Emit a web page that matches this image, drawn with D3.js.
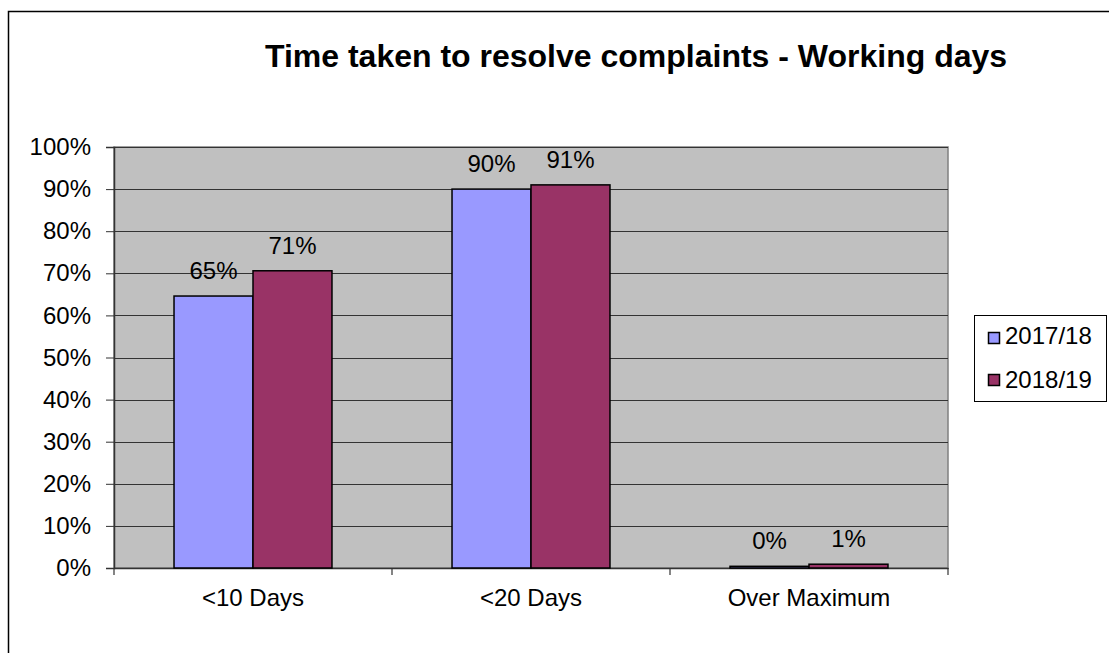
<!DOCTYPE html>
<html>
<head>
<meta charset="utf-8">
<script src="https://cdn.jsdelivr.net/npm/d3@7"></script>
<style>
  body { margin: 0; background: #fff; }
  text { font-family: "Liberation Sans", Arial, sans-serif; fill: #000; }
</style>
</head>
<body>
<div id="chart"></div>
<script>
// Chart data
const categories = ["<10 Days", "<20 Days", "Over Maximum"];
const seriesNames = ["2017/18", "2018/19"];
const values2017 = [0.646, 0.90, 0.004];
const values2018 = [0.706, 0.91, 0.009];
const yTicks = [0, 0.1, 0.2, 0.3, 0.4, 0.5, 0.6, 0.7, 0.8, 0.9, 1.0];
const colors = ["#9999ff", "#993366"];

const W = 1109, H = 653;
const plot = { left: 114, top: 147, right: 948, bottom: 568 };
const labelSize = "24px";

const svg = d3.select("#chart").append("svg")
  .attr("width", W).attr("height", H);

// outer chart border (runs off the bottom/right edge)
svg.append("rect")
  .attr("x", 8.5).attr("y", 11.5)
  .attr("width", W + 10).attr("height", H + 10)
  .attr("fill", "#fff").attr("stroke", "#000").attr("stroke-width", 1.5);

// title
svg.append("text")
  .attr("x", 636).attr("y", 67)
  .attr("text-anchor", "middle")
  .style("font-size", "32px").style("font-weight", "bold")
  .text("Time taken to resolve complaints - Working days");

const x = d3.scaleBand().domain(categories)
  .range([plot.left, plot.right]).paddingInner(0).paddingOuter(0);
const y = d3.scaleLinear().domain([0, 1]).range([plot.bottom, plot.top]);

// plot background
svg.append("rect")
  .attr("x", plot.left).attr("y", plot.top)
  .attr("width", plot.right - plot.left).attr("height", plot.bottom - plot.top)
  .attr("fill", "#c0c0c0").attr("stroke", "#808080").attr("stroke-width", 1.5);

// gridlines
svg.append("g").selectAll("line")
  .data(yTicks.filter((t) => t > 0))
  .enter().append("line")
  .attr("x1", plot.left).attr("x2", plot.right)
  .attr("y1", (d) => Math.round(y(d)) + 0.5).attr("y2", (d) => Math.round(y(d)) + 0.5)
  .attr("stroke", "#333").attr("stroke-width", 1.2);

// y axis
const yAxis = svg.append("g")
  .attr("transform", `translate(${plot.left},0)`)
  .call(d3.axisLeft(y).tickValues(yTicks).tickFormat(d3.format(".0%")).tickSize(8).tickPadding(15));
yAxis.select(".domain").attr("stroke", "#333").attr("stroke-width", 1.5);
yAxis.selectAll(".tick line").attr("stroke", "#333");
yAxis.selectAll("text").style("font-size", labelSize)
  .style("font-family", '"Liberation Sans", Arial, sans-serif').attr("fill", "#000");

// x axis
const xAxis = svg.append("g")
  .attr("transform", `translate(0,${plot.bottom})`)
  .call(d3.axisBottom(x).tickSize(0).tickPadding(21));
xAxis.select(".domain").attr("stroke", "#333").attr("stroke-width", 1.5);
xAxis.selectAll("text").style("font-size", labelSize)
  .style("font-family", '"Liberation Sans", Arial, sans-serif').attr("fill", "#000");
// category boundary ticks
xAxis.selectAll(".bound")
  .data(d3.range(categories.length + 1))
  .enter().append("line")
  .attr("x1", (i) => plot.left + i * x.bandwidth()).attr("x2", (i) => plot.left + i * x.bandwidth())
  .attr("y1", 0).attr("y2", 7)
  .attr("stroke", "#333").attr("stroke-width", 1.2);

// bars
const sub = d3.scaleBand().domain(seriesNames)
  .range([0, x.bandwidth()]).paddingInner(0).paddingOuter(0.76);
const seriesValues = [values2017, values2018];
const fmt = d3.format(".0%");

seriesNames.forEach((name, s) => {
  const g = svg.append("g");
  g.selectAll("rect")
    .data(categories)
    .enter().append("rect")
    .attr("x", (c) => x(c) + sub(name))
    .attr("y", (c, i) => y(seriesValues[s][i]))
    .attr("width", sub.bandwidth())
    .attr("height", (c, i) => plot.bottom - y(seriesValues[s][i]))
    .attr("fill", colors[s]).attr("stroke", "#000").attr("stroke-width", 1.5);
  g.selectAll("text")
    .data(categories)
    .enter().append("text")
    .attr("x", (c) => x(c) + sub(name) + sub.bandwidth() / 2)
    .attr("y", (c, i) => y(seriesValues[s][i]) - 17)
    .attr("text-anchor", "middle")
    .style("font-size", labelSize)
    .text((c, i) => fmt(seriesValues[s][i]));
});

// legend
const legend = svg.append("g");
legend.append("rect")
  .attr("x", 974.5).attr("y", 315.5).attr("width", 132).attr("height", 86)
  .attr("fill", "#fff").attr("stroke", "#000").attr("stroke-width", 1);
seriesNames.forEach((name, s) => {
  legend.append("rect")
    .attr("x", 988.5).attr("y", 332.5 + s * 42).attr("width", 11).attr("height", 11)
    .attr("fill", colors[s]).attr("stroke", "#000").attr("stroke-width", 1.5);
  legend.append("text")
    .attr("x", 1005).attr("y", 344 + s * 44)
    .style("font-size", labelSize)
    .text(name);
});
</script>
</body>
</html>
